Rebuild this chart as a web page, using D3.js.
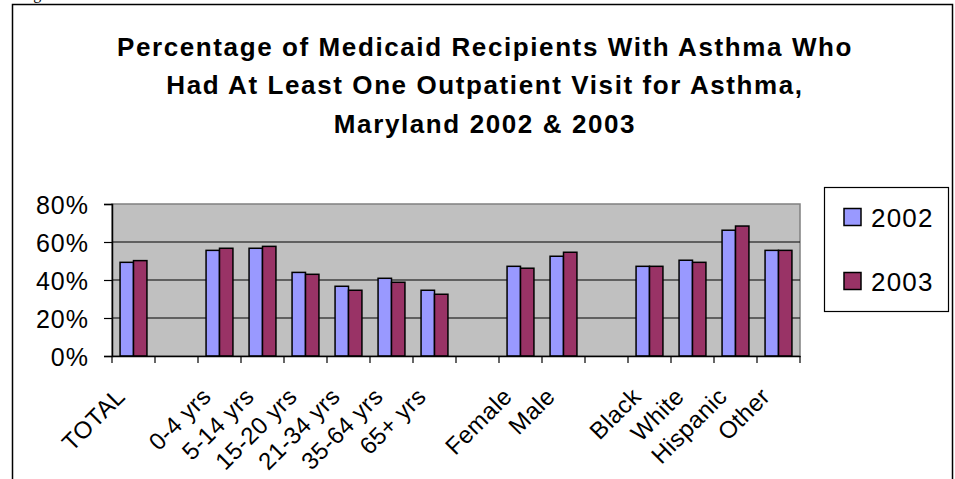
<!DOCTYPE html>
<html>
<head>
<meta charset="utf-8">
<script src="https://cdn.jsdelivr.net/npm/d3@7/dist/d3.min.js"></script>
<style>
  html, body { margin: 0; padding: 0; background: #fff; }
  svg { display: block; }
  text { font-family: "Liberation Sans", Arial, Helvetica, sans-serif; fill: #000; }
</style>
</head>
<body>
<svg id="chart" width="955" height="479"></svg>
<script>
// Categories along the x axis (blank entries are spacer slots between groups)
const categories = ["TOTAL", "", "0-4 yrs", "5-14 yrs", "15-20 yrs", "21-34 yrs", "35-64 yrs", "65+ yrs",
                    "", "Female", "Male", "", "Black", "White", "Hispanic", "Other"];
// Percent of recipients with at least one outpatient asthma visit
const values2002 = [49.3, null, 55.6, 56.7, 44.0, 36.7, 40.9, 34.6, null, 47.2, 52.5, null, 47.2, 50.4, 66.2, 55.6];
const values2003 = [50.2, null, 56.7, 57.7, 43.0, 34.6, 38.8, 32.5, null, 46.2, 54.6, null, 47.2, 49.3, 68.4, 55.6];
const seriesNames = ["2002", "2003"];
const seriesColors = ["#9999FF", "#993366"];
const yTicks = [0, 20, 40, 60, 80];
const titleLines = ["Percentage of Medicaid Recipients With Asthma Who",
                    "Had At Least One Outpatient Visit for Asthma,",
                    "Maryland 2002 & 2003"];

const svg = d3.select("#chart");

// Outer chart frame
svg.append("rect")
  .attr("x", 12.5).attr("y", 4.5)
  .attr("width", 940).attr("height", 500)
  .attr("fill", "#fff").attr("stroke", "#000").attr("stroke-width", 1.5);

// Fragment of the caption line above the chart
svg.append("text")
  .attr("x", 20).attr("y", -1)
  .style("font-family", "'Liberation Serif', 'Times New Roman', serif")
  .style("font-size", "16px")
  .text("Figure");

// Title
svg.append("g").selectAll("text")
  .data(titleLines)
  .join("text")
  .attr("x", 485)
  .attr("y", (d, i) => 55.5 + i * 38.5)
  .attr("text-anchor", "middle")
  .style("font-size", "26px")
  .style("font-weight", "bold")
  .style("letter-spacing", "1.6px")
  .text(d => d);

// Plot area
const plot = { left: 112, right: 800, top: 204, bottom: 356 };

const x = d3.scaleBand()
  .domain(d3.range(categories.length))
  .range([plot.left, plot.right])
  .paddingInner(0).paddingOuter(0);

const slot = x.step();
const gapHalf = slot * 0.6 / 3.2; // gap of 120% of a bar width, split on both sides
const xInner = d3.scaleBand()
  .domain([0, 1])
  .range([gapHalf, slot - gapHalf]);

const y = d3.scaleLinear()
  .domain([0, 80])
  .range([plot.bottom, plot.top]);

svg.append("rect")
  .attr("x", plot.left).attr("y", plot.top)
  .attr("width", plot.right - plot.left).attr("height", plot.bottom - plot.top)
  .attr("fill", "#C0C0C0").attr("stroke", "#808080").attr("stroke-width", 1.5);

// Gridlines
svg.append("g").selectAll("line")
  .data(yTicks.filter(t => t > 0 && t < 80))
  .join("line")
  .attr("x1", plot.left).attr("x2", plot.right)
  .attr("y1", d => y(d)).attr("y2", d => y(d))
  .attr("stroke", "#000").attr("stroke-width", 1);

// Bars
const series = [values2002, values2003];
const barData = [];
series.forEach((vals, s) => {
  vals.forEach((v, i) => { if (v != null) barData.push({ i, s, v }); });
});

svg.append("g").selectAll("rect")
  .data(barData)
  .join("rect")
  .attr("x", d => x(d.i) + xInner(d.s))
  .attr("y", d => y(d.v))
  .attr("width", xInner.bandwidth())
  .attr("height", d => y(0) - y(d.v))
  .attr("fill", d => seriesColors[d.s])
  .attr("stroke", "#000").attr("stroke-width", 1.5);

// Y axis
const yAxis = svg.append("g")
  .attr("transform", `translate(${plot.left},0)`)
  .call(d3.axisLeft(y).tickValues(yTicks).tickSize(8).tickPadding(15).tickFormat(d => d + "%"));
yAxis.select(".domain").attr("stroke", "#000").attr("stroke-width", 1.5);
yAxis.selectAll(".tick line").attr("stroke", "#000").attr("stroke-width", 1.2);
yAxis.selectAll(".tick text")
  .style("font-size", "25px")
  .style("letter-spacing", "1px")
  .attr("dy", "0.36em");

// X axis: category labels at slot centres, tick marks at slot boundaries
const xAxis = svg.append("g")
  .attr("transform", `translate(0,${plot.bottom})`)
  .call(d3.axisBottom(x).tickSize(0).tickFormat(i => categories[i]));
xAxis.select(".domain").attr("stroke", "#000").attr("stroke-width", 1.5);
xAxis.selectAll(".tick text")
  .attr("x", 0).attr("y", 0).attr("dy", 0)
  .attr("text-anchor", "end")
  .attr("transform", "translate(-7,42) rotate(-45)")
  .style("font-size", "24px")
  .style("letter-spacing", "0.4px");

xAxis.append("g").selectAll("line")
  .data(d3.range(categories.length + 1))
  .join("line")
  .attr("x1", d => plot.left + d * slot).attr("x2", d => plot.left + d * slot)
  .attr("y1", 0).attr("y2", 7)
  .attr("stroke", "#000").attr("stroke-width", 1.2);

// Legend
const legend = svg.append("g");
legend.append("rect")
  .attr("x", 824.5).attr("y", 187.5)
  .attr("width", 124).attr("height", 124)
  .attr("fill", "#fff").attr("stroke", "#000").attr("stroke-width", 1.2);

const items = legend.selectAll("g.item")
  .data(seriesNames)
  .join("g")
  .attr("class", "item")
  .attr("transform", (d, i) => `translate(0,${217 + i * 64})`);
items.append("rect")
  .attr("x", 844).attr("y", -8.5)
  .attr("width", 17).attr("height", 17)
  .attr("fill", (d, i) => seriesColors[i])
  .attr("stroke", "#000").attr("stroke-width", 1.5);
items.append("text")
  .attr("x", 871)
  .attr("y", 10)
  .style("font-size", "26px")
  .style("letter-spacing", "1.2px")
  .text(d => d);
</script>
</body>
</html>
